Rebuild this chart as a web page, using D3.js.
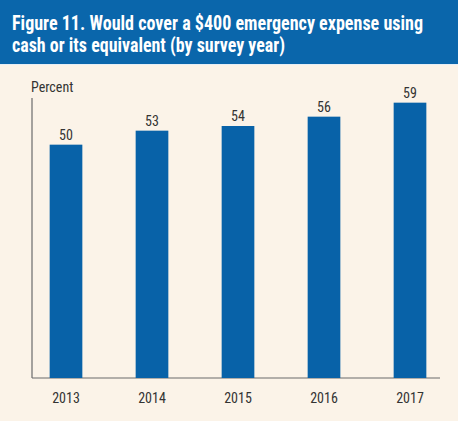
<!DOCTYPE html>
<html>
<head>
<meta charset="utf-8">
<script src="https://cdn.jsdelivr.net/npm/d3@7"></script>
<style>
html,body{margin:0;padding:0;background:#ffffff;}
svg{display:block;}
</style>
</head>
<body>
<script>
const titleLines = ["Figure 11. Would cover a $400 emergency expense using", "cash or its equivalent (by survey year)"];
const titleWidths = [411, 273];
const yAxisLabel = "Percent";
const years = ["2013", "2014", "2015", "2016", "2017"];
const values = [50, 53, 54, 56, 59];

const W = 460, H = 421;
const font = "'Liberation Sans Narrow','Arial Narrow','Roboto Condensed',sans-serif";
const svg = d3.select("body").append("svg").attr("width", W).attr("height", H);

// panel background
svg.append("rect").attr("x", 0).attr("y", 0).attr("width", 458).attr("height", H).attr("fill", "#fbf3e8");
// header band
svg.append("rect").attr("x", 0).attr("y", 0).attr("width", 458).attr("height", 64).attr("fill", "#0a66ab");
svg.append("rect").attr("x", 0).attr("y", 64).attr("width", 458).attr("height", 1).attr("fill", "#e6eef5");

svg.append("g").selectAll("text").data(titleLines).join("text")
  .attr("x", 12).attr("y", (d, i) => 30 + i * 22)
  .attr("fill", "#ffffff").attr("font-family", font).attr("font-weight", "bold")
  .attr("font-size", 19.5)
  .attr("textLength", (d, i) => titleWidths[i]).attr("lengthAdjust", "spacingAndGlyphs")
  .text(d => d);

const x = d3.scaleBand().domain(years).range([23, 453]).paddingInner(0.62).paddingOuter(0.31);
const y = d3.scaleLinear().domain([0, 60]).range([378, 98]);

// axes
const axisColor = "#6b6b6b";
svg.append("line").attr("x1", 32).attr("x2", 32).attr("y1", y(60)).attr("y2", y(0))
  .attr("stroke", axisColor).attr("stroke-width", 1.2);
svg.append("line").attr("x1", 32).attr("x2", 440).attr("y1", y(0)).attr("y2", y(0))
  .attr("stroke", axisColor).attr("stroke-width", 1.2);

svg.append("text").attr("x", 31).attr("y", 92).attr("font-family", font)
  .attr("font-size", 14).attr("fill", "#333").text(yAxisLabel);

// bars
svg.append("g").selectAll("rect").data(values).join("rect")
  .attr("x", (d, i) => x(years[i])).attr("width", x.bandwidth())
  .attr("y", d => y(d)).attr("height", d => y(0) - y(d))
  .attr("fill", "#0862a8");

// value labels
svg.append("g").selectAll("text").data(values).join("text")
  .attr("x", (d, i) => x(years[i]) + x.bandwidth() / 2).attr("y", d => y(d) - 5)
  .attr("text-anchor", "middle").attr("font-family", font).attr("font-size", 14)
  .attr("fill", "#333").text(d => d);

// x labels
svg.append("g").selectAll("text").data(years).join("text")
  .attr("x", d => x(d) + x.bandwidth() / 2).attr("y", 403)
  .attr("text-anchor", "middle").attr("font-family", font).attr("font-size", 14)
  .attr("fill", "#333").text(d => d);
</script>
</body>
</html>
